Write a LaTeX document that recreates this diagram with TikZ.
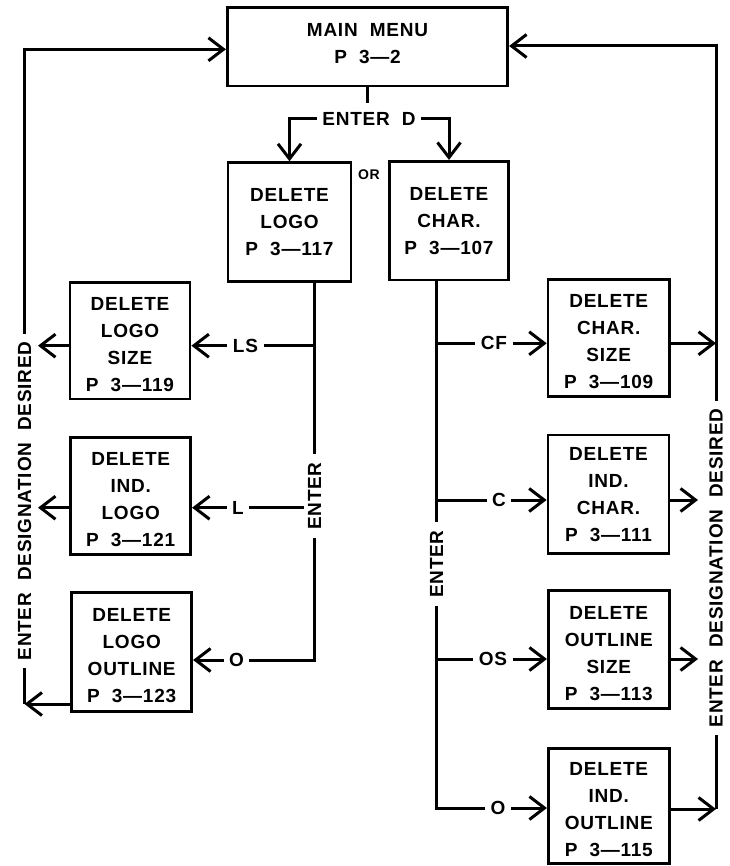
\documentclass[tikz,border=0pt]{standalone}
\usepackage{fontspec}
\newfontfamily\plotfont[LetterSpace=4]{Liberation Sans}
\usetikzlibrary{arrows.meta,backgrounds}
\newcommand\boxtop{\rule{0pt}{20.6pt}}
\newcommand\boxbot{\rule[-6.6pt]{0pt}{6.6pt}}
\begin{document}
\begin{tikzpicture}[x=1pt,y=-1pt,line width=3pt,
  box/.style={draw,line width=2.8pt,align=center,inner sep=0pt,font={\plotfont\bfseries\fontsize{19}{27}\selectfont}},
  lab/.style={fill=white,inner xsep=4pt,inner ysep=2pt,font={\plotfont\bfseries\fontsize{19}{27}\selectfont}},
  vlab/.style={lab,rotate=90,inner xsep=8pt,inner ysep=4pt},
  smalllab/.style={inner sep=1pt,font={\plotfont\bfseries\fontsize{14}{16}\selectfont}},
  conn/.style={line width=3pt},
  arr/.style={-{Straight Barb[length=15pt,width=23pt]}}]
\useasboundingbox (0,0) rectangle (729,866);

% boxes
\node[box,minimum width=280.4pt,minimum height=78.7pt] (main) at (367.5,46.6) {MAIN~~MENU\\P~~3—2\boxbot};
\node[box,minimum width=123pt,minimum height=119pt] (dlogo) at (289.5,222.2) {DELETE\\LOGO\\P~~3—117};
\node[box,minimum width=119.3pt,minimum height=118.7pt] (dchar) at (449,220.7) {DELETE\\CHAR.\\P~~3—107};
\node[box,minimum width=120pt,minimum height=116.3pt] (dls) at (130,340.8) {\boxtop DELETE\\LOGO\\SIZE\\P~~3—119};
\node[box,minimum width=120pt,minimum height=116.6pt] (dil) at (130.7,496) {\boxtop DELETE\\IND.\\LOGO\\P~~3—121};
\node[box,minimum width=120pt,minimum height=119pt] (dlo) at (131.7,652.2) {\boxtop DELETE\\LOGO\\OUTLINE\\P~~3—123};
\node[box,minimum width=121.3pt,minimum height=117.4pt] (dcs) at (608.7,338) {\boxtop DELETE\\CHAR.\\SIZE\\P~~3—109};
\node[box,minimum width=121pt,minimum height=118.3pt] (dic) at (608.5,494.2) {DELETE\\IND.\\CHAR.\\P~~3—111};
\node[box,minimum width=121pt,minimum height=117.6pt] (dos) at (608.8,649.5) {\boxtop DELETE\\OUTLINE\\SIZE\\P~~3—113};
\node[box,minimum width=121pt,minimum height=115.2pt] (dio) at (608.8,805.9) {\boxtop DELETE\\IND.\\OUTLINE\\P~~3—115};

% labels
\node[lab] (enterd) at (369,119) {ENTER~~D};
\node[smalllab] (or) at (369,175) {OR};
\node[lab] (ls) at (245.5,345.7) {LS};
\node[lab] (l) at (238,507.7) {L};
\node[lab] (lo) at (236.5,660) {O};
\node[lab] (cf) at (494,343.3) {CF};
\node[lab] (c) at (499,500) {C};
\node[lab] (os) at (493,659) {OS};
\node[lab] (ro) at (498,808) {O};
\node[vlab] (enterl) at (314.5,496) {ENTER};
\node[vlab] (enterr) at (436.5,564) {ENTER};
\node[vlab] (edl) at (24.5,501) {ENTER~~DESIGNATION~~DESIRED};
\node[vlab] (edr) at (716,568) {ENTER~~DESIGNATION~~DESIRED};

% helper coordinates
\coordinate (sL) at (314.5,0);
\coordinate (sR) at (436.5,0);
\coordinate (tipL) at (38,0);
\coordinate (tipR) at (698,0);
\coordinate (rl) at (716,0);
\coordinate (bl) at (24.5,704);
\coordinate (tl) at (24.5,49.3);
\coordinate (br) at (716,809);
\coordinate (tr) at (716,46);

\begin{pgfonlayer}{background}
\fill[white] (0,0) rectangle (729,866);
\begin{scope}[conn]
% top
\draw (main.south) -- ++(0,15.7);
\draw[arr] (enterd.west) -| (dlogo.north);
\draw[arr] (enterd.east) -| (dchar.north);
% left stem
\draw (dlogo.south -| sL) -- (sL |- lo) -- (lo.east);
\draw (sL |- ls) -- (ls.east);
\draw (sL |- l) -- (l.east);
\draw[arr] (ls.west) -- (dls.east |- ls);
\draw[arr] (l.west) -- (dil.east |- l);
\draw[arr] (lo.west) -- (dlo.east |- lo);
\draw[arr] (dls.west |- ls) -- (tipL |- ls);
\draw[arr] (dil.west |- l) -- (tipL |- l);
\draw[arr] (dlo.west |- bl) -- (bl);
\draw[arr] (bl) -- (tl) -- (main.west |- tl);
% right stem
\draw (dchar.south -| sR) -- (sR |- ro) -- (ro.west);
\draw (sR |- cf) -- (cf.west);
\draw (sR |- c) -- (c.west);
\draw (sR |- os) -- (os.west);
\draw[arr] (cf.east) -- (dcs.west |- cf);
\draw[arr] (c.east) -- (dic.west |- c);
\draw[arr] (os.east) -- (dos.west |- os);
\draw[arr] (ro.east) -- (dio.west |- ro);
\draw[arr] (dcs.east |- cf) -- (rl |- cf);
\draw[arr] (dic.east |- c) -- (tipR |- c);
\draw[arr] (dos.east |- os) -- (tipR |- os);
\draw[arr] (dio.east |- br) -- (br);
\draw[arr] (br) -- (tr) -- (main.east |- tr);
\end{scope}
\end{pgfonlayer}
\end{tikzpicture}
\end{document}
